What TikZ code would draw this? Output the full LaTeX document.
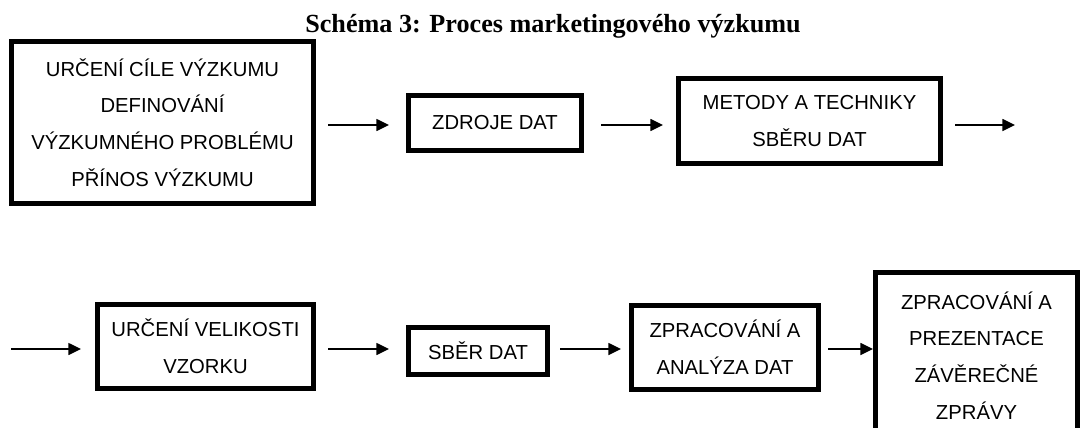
\documentclass[tikz,border=0pt]{standalone}
\usepackage{fontspec}
\setmainfont{Liberation Sans}
\newfontfamily\titlefont{Liberation Serif}
\usetikzlibrary{arrows.meta}
\begin{document}
\begin{tikzpicture}[x=0.75pt,y=-0.75pt,
  stage/.style={draw, line width=3.75pt, inner sep=0pt, align=center,
    font=\fontsize{15.2}{27.5}\selectfont},
  flow/.style={line width=1.1pt, -{Triangle[length=9.5pt,width=9pt]}}]
\clip (0,0) rectangle (1081,428);

% title
\node[anchor=base, font=\titlefont\bfseries\fontsize{19.6}{24}\selectfont] (title) at (553,33)
  {Schéma 3: Proces marketingového výzkumu};

% rows of arrows
\coordinate (r1) at (0,125);
\coordinate (r2) at (0,349);

% first row
\node[stage, minimum width=226.5pt, minimum height=121.5pt] (b1) at (162.5,122.5)
  {URČENÍ CÍLE VÝZKUMU\\DEFINOVÁNÍ\\VÝZKUMNÉHO PROBLÉMU\\PŘÍNOS VÝZKUMU};
\node[stage, minimum width=129.75pt, minimum height=41.25pt] (b2) at (495,123)
  {ZDROJE DAT};
\node[stage, minimum width=196.5pt, minimum height=63.75pt] (b3) at (809.5,121)
  {METODY A TECHNIKY\\SBĚRU DAT};
\coordinate (e1) at (1015,125);

% second row
\coordinate (s2) at (11,349);
\node[stage, minimum width=162pt, minimum height=63pt] (b4) at (205.5,346.5)
  {URČENÍ VELIKOSTI\\VZORKU};
\node[stage, minimum width=104.25pt, minimum height=35.25pt] (b5) at (478,351)
  {SBĚR DAT};
\node[stage, minimum width=140.25pt, minimum height=63pt] (b6) at (725,347.5)
  {ZPRACOVÁNÍ A\\ANALÝZA DAT};
\node[stage, minimum width=151.5pt, minimum height=124.5pt] (b7) at (976.5,355.5)
  {ZPRACOVÁNÍ A\\PREZENTACE\\ZÁVĚREČNÉ\\ZPRÁVY};

% connectors
\draw[flow, shorten <=9pt, shorten >=12.75pt] (b1.east |- r1) -- (b2.west |- r1);
\draw[flow, shorten <=12.75pt, shorten >=9.75pt] (b2.east |- r1) -- (b3.west |- r1);
\draw[flow, shorten <=9pt] (b3.east |- r1) -- (e1);
\draw[flow, shorten >=10.5pt] (s2) -- (b4.west |- r2);
\draw[flow, shorten <=9pt, shorten >=12.75pt] (b4.east |- r2) -- (b5.west |- r2);
\draw[flow, shorten <=7.5pt, shorten >=6pt] (b5.east |- r2) -- (b6.west |- r2);
\draw[flow, shorten <=5.25pt] (b6.east |- r2) -- (b7.west |- r2);
\end{tikzpicture}
\end{document}
